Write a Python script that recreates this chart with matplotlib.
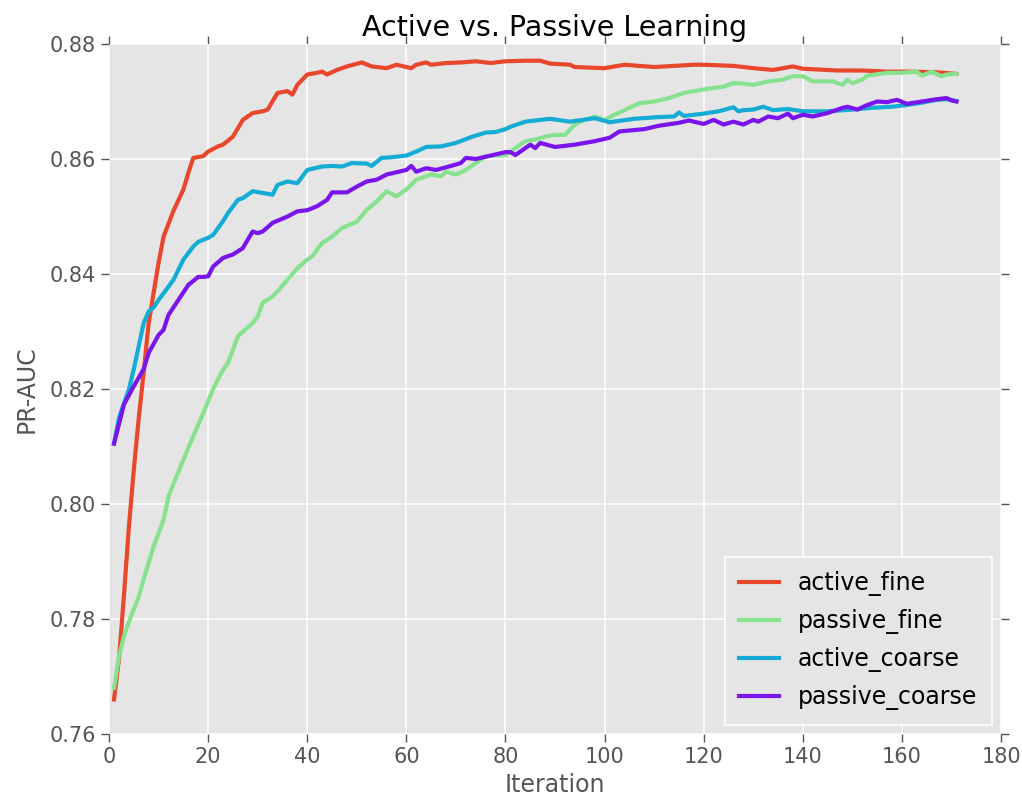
import matplotlib
matplotlib.use("Agg")
import matplotlib.pyplot as plt

# values (iteration, PR-AUC)
active_fine_x = [1, 2, 3, 4, 5, 6, 7, 8, 10, 11, 13, 15, 16, 17, 19, 20, 22, 23, 25, 27,
                 29, 31, 32, 34, 36, 37, 38, 40, 42, 43, 44, 46, 48, 51, 53, 56, 58, 61,
                 62, 64, 65, 68, 71, 74, 77, 80, 84, 87, 89, 93, 94, 100, 104, 110, 118,
                 120, 126, 130, 134, 138, 140, 147, 152, 157, 161, 167, 171]
active_fine_y = [0.766, 0.773, 0.784, 0.796, 0.806, 0.815, 0.823, 0.8315, 0.842, 0.8465,
                 0.851, 0.8547, 0.8576, 0.8602, 0.8605, 0.8613, 0.8622, 0.8625, 0.8639,
                 0.8668, 0.8680, 0.8683, 0.8686, 0.8715, 0.8718, 0.8712, 0.8729, 0.8747,
                 0.8750, 0.8752, 0.8747, 0.8755, 0.8761, 0.8768, 0.8761, 0.8758, 0.8764,
                 0.8758, 0.8764, 0.8768, 0.8764, 0.8767, 0.8768, 0.8770, 0.8767, 0.8770,
                 0.8771, 0.8771, 0.8766, 0.8764, 0.8760, 0.8758, 0.8764, 0.8760, 0.8764,
                 0.8764, 0.8762, 0.8758, 0.8755, 0.8761, 0.8757, 0.8754, 0.8754, 0.8752,
                 0.8752, 0.8751, 0.8748]

passive_fine_x = [1, 2, 3, 4, 6, 7, 9, 11, 12, 13, 15, 17, 19, 21, 23, 24, 26, 29, 30, 31,
                  33, 34, 36, 38, 40, 41, 43, 45, 47, 50, 52, 54, 56, 58, 60, 62, 64, 65,
                  67, 68, 70, 72, 74, 76, 80, 84, 86, 88, 90, 92, 94, 96, 98, 100, 102,
                  105, 107, 110, 113, 116, 120, 124, 126, 128, 130, 133, 136, 138, 140,
                  142, 146, 148, 149, 150, 152, 153, 157, 160, 163, 164, 166, 168, 169, 171]
passive_fine_y = [0.768, 0.7735, 0.777, 0.7795, 0.7839, 0.787, 0.7926, 0.7973, 0.8013,
                  0.8035, 0.8077, 0.8118, 0.8158, 0.820, 0.8234, 0.8245, 0.8292, 0.8315,
                  0.8326, 0.8350, 0.8361, 0.8370, 0.8390, 0.8410, 0.8425, 0.8431, 0.8454,
                  0.8465, 0.8480, 0.8491, 0.8512, 0.8526, 0.8544, 0.8535, 0.8547, 0.8564,
                  0.8570, 0.8573, 0.8570, 0.8578, 0.8573, 0.8581, 0.8593, 0.8605, 0.8607,
                  0.8631, 0.8634, 0.8639, 0.8642, 0.8642, 0.8660, 0.8668, 0.8674, 0.8668,
                  0.8677, 0.8689, 0.8697, 0.8700, 0.8706, 0.8715, 0.8721, 0.8726, 0.8732,
                  0.8731, 0.8729, 0.8735, 0.8738, 0.8744, 0.8744, 0.8735, 0.8735, 0.8729,
                  0.8738, 0.8732, 0.8738, 0.8745, 0.8750, 0.8750, 0.8752, 0.8745, 0.8752,
                  0.8744, 0.8747, 0.8748]

active_coarse_x = [1, 2, 3, 4, 5, 6, 7, 8, 9, 10, 12, 13, 15, 17, 18, 20, 21, 23, 24, 26,
                   27, 29, 31, 33, 34, 36, 38, 40, 43, 45, 47, 49, 52, 53, 55, 57, 60, 62,
                   64, 67, 70, 73, 76, 78, 80, 81, 84, 89, 93, 98, 101, 106, 111, 114, 115,
                   116, 120, 123, 126, 127, 128, 130, 132, 134, 137, 140, 142, 145, 150,
                   154, 158, 161, 164, 167, 169, 171]
active_coarse_y = [0.8105, 0.8150, 0.8175, 0.8199, 0.8235, 0.8275, 0.8315, 0.8335, 0.8342,
                   0.8355, 0.8378, 0.8390, 0.8425, 0.8448, 0.8456, 0.8463, 0.8468, 0.8492,
                   0.8506, 0.8529, 0.8532, 0.8544, 0.8541, 0.8538, 0.8555, 0.8561, 0.8558,
                   0.8581, 0.8587, 0.8588, 0.8587, 0.8593, 0.8592, 0.8588, 0.8602, 0.8603,
                   0.8606, 0.8613, 0.8621, 0.8622, 0.8628, 0.8638, 0.8646, 0.8647, 0.8652,
                   0.8656, 0.8665, 0.8670, 0.8665, 0.8671, 0.8664, 0.8670, 0.8673, 0.8674,
                   0.8681, 0.8675, 0.8679, 0.8683, 0.8690, 0.8683, 0.8685, 0.8686, 0.8691,
                   0.8685, 0.8687, 0.8683, 0.8683, 0.8683, 0.8686, 0.8689, 0.8691, 0.8694,
                   0.8698, 0.8703, 0.8704, 0.8701]

passive_coarse_x = [1, 3, 5, 6, 7, 8, 10, 11, 12, 14, 16, 18, 19, 20, 21, 23, 25, 27, 28,
                    29, 30, 31, 33, 36, 38, 40, 42, 44, 45, 48, 50, 52, 54, 56, 58, 60, 61,
                    62, 64, 66, 69, 71, 72, 74, 77, 80, 81, 82, 85, 86, 87, 90, 94, 98, 101,
                    103, 108, 111, 115, 117, 120, 122, 124, 126, 128, 130, 131, 133, 135,
                    137, 138, 140, 142, 145, 148, 149, 151, 153, 155, 157, 159, 161, 164,
                    167, 169, 170, 171]
passive_coarse_y = [0.8105, 0.8173, 0.8205, 0.8220, 0.8235, 0.8263, 0.8294, 0.8303, 0.8329,
                    0.8355, 0.8381, 0.8395, 0.8395, 0.8396, 0.8413, 0.8428, 0.8434, 0.8445,
                    0.8460, 0.8474, 0.8471, 0.8474, 0.8489, 0.8500, 0.8509, 0.8511, 0.8518,
                    0.8529, 0.8542, 0.8542, 0.8552, 0.8561, 0.8564, 0.8573, 0.8577, 0.8581,
                    0.8588, 0.8578, 0.8584, 0.8581, 0.8588, 0.8593, 0.8602, 0.8600, 0.8606,
                    0.8612, 0.8612, 0.8607, 0.8625, 0.8619, 0.8628, 0.8621, 0.8625, 0.8631,
                    0.8637, 0.8648, 0.8652, 0.8658, 0.8663, 0.8667, 0.8661, 0.8668, 0.8660,
                    0.8665, 0.8660, 0.8668, 0.8665, 0.8674, 0.8671, 0.8679, 0.8671, 0.8677,
                    0.8674, 0.8680, 0.8689, 0.8691, 0.8686, 0.8694, 0.8700, 0.8699, 0.8703,
                    0.8696, 0.8700, 0.8704, 0.8706, 0.8702, 0.8700]

series = [
    ("active_fine", active_fine_x, active_fine_y, "#e8472b"),
    ("passive_fine", passive_fine_x, passive_fine_y, "#86e28f"),
    ("active_coarse", active_coarse_x, active_coarse_y, "#14acd4"),
    ("passive_coarse", passive_coarse_x, passive_coarse_y, "#7a14ec"),
]

fig = plt.figure(figsize=(10.22, 8.08), dpi=100)
ax = fig.add_axes([0.1067, 0.0916, 0.8728, 0.8539])
ax.set_facecolor("#e5e5e5")
for s in ax.spines.values():
    s.set_visible(False)
ax.grid(True, color="white", linewidth=1.1)
ax.set_axisbelow(True)

for name, xs, ys, c in series:
    ax.plot(xs, ys, color=c, linewidth=3.0, label=name)

ax.set_xlim(0, 180)
ax.set_ylim(0.76, 0.88)
ax.set_xticks(range(0, 181, 20))
ax.set_yticks([0.76, 0.78, 0.80, 0.82, 0.84, 0.86, 0.88])
ax.tick_params(direction="out", length=6, width=1, colors="#555555",
               labelsize=15, top=True, right=True)
ax.tick_params(axis="both", labelcolor="#555555")

ax.set_xlabel("Iteration", fontsize=17, color="#555555", labelpad=4)
ax.set_ylabel("PR-AUC", fontsize=17, color="#555555", labelpad=8)
ax.set_title("Active vs. Passive Learning", fontsize=20.5, pad=6)

leg = ax.legend(loc="lower right", fontsize=17, handlelength=1.7,
                labelspacing=0.55, borderpad=0.6, borderaxespad=0.4, fancybox=False)
leg.get_frame().set_facecolor("#e5e5e5")
leg.get_frame().set_edgecolor("white")
leg.get_frame().set_linewidth(1.5)

fig.savefig("out.png", dpi=100)
